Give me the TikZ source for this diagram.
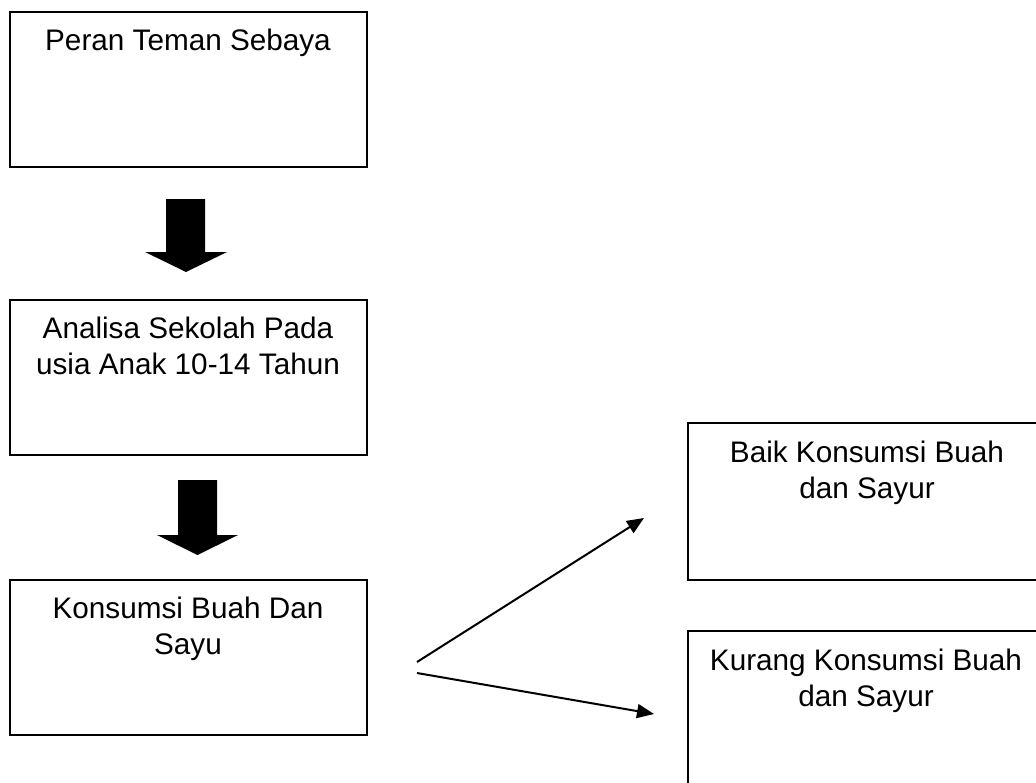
\documentclass[tikz,border=0pt]{standalone}
\usepackage{fontspec}
\setmainfont{Liberation Sans}
\usetikzlibrary{arrows.meta}
\begin{document}
\begin{tikzpicture}[x=1pt,y=-1pt,
  box/.style={draw=black, line width=1.6pt, rectangle, inner sep=0pt},
  boxtext/.style={anchor=base, align=center, inner sep=0pt, font=\fontsize{29.7}{36}\selectfont},
  blockarrow/.style={fill=black},
  thinarrow/.style={line width=2pt, -{Triangle[length=17pt,width=14pt]}}]
\useasboundingbox (0,0) rectangle (1036,782);
\clip (0,0) rectangle (1036,782);
% boxes
\node[box, minimum width=357, minimum height=155] (b1) at (188.5,89.5) {};
\node[box, minimum width=357, minimum height=155] (b2) at (188.5,377.5) {};
\node[box, minimum width=357, minimum height=155] (b3) at (188.5,657.5) {};
\node[box, minimum width=358, minimum height=157] (b4) at (867,501.5) {};
\node[box, minimum width=358, minimum height=170] (b5) at (867,716) {};
% texts (anchor = baseline of last line)
\node[boxtext] (t1) at (188,50) {Peran Teman Sebaya};
\node[boxtext] (t2) at (188,374) {Analisa Sekolah Pada\\usia Anak 10-14 Tahun};
\node[boxtext] (t3) at (188,654) {Konsumsi Buah Dan\\Sayu};
\node[boxtext] (t4) at (867,498) {Baik Konsumsi Buah\\dan Sayur};
\node[boxtext] (t5) at (866,706) {Kurang Konsumsi Buah\\dan Sayur};
% block arrows
\fill[blockarrow] (166,199) -- (205,199) -- (205,252) -- (227,252) -- (186,272) -- (145,252) -- (166,252) -- cycle;
\fill[blockarrow] (178,480) -- (217,480) -- (217,535) -- (238,535) -- (197.5,555) -- (157,535) -- (178,535) -- cycle;
% thin arrows
\coordinate (s1) at (417,662);
\coordinate (e1) at (644,518);
\coordinate (s2) at (417,673);
\coordinate (e2) at (654,714);
\draw[thinarrow] (s1) -- (e1);
\draw[thinarrow] (s2) -- (e2);
\end{tikzpicture}
\end{document}
